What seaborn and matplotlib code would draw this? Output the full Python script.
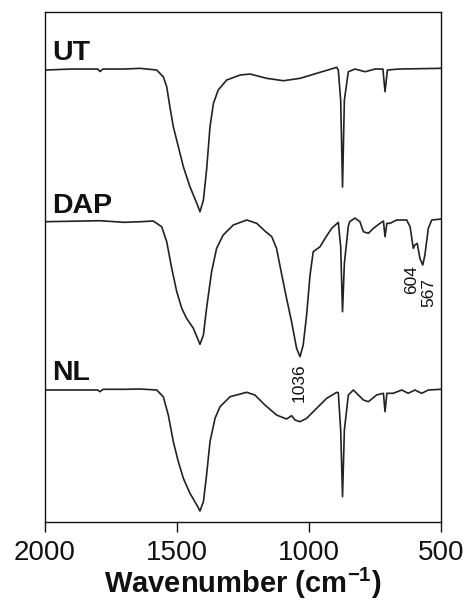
import pandas as pd
import seaborn as sns
import matplotlib.pyplot as plt

# FTIR spectra (wavenumber in cm-1, stacked intensity in a.u.)
ut_wn = [2000, 1900, 1800, 1792, 1780, 1700, 1640, 1577, 1552, 1539, 1527, 1514,
         1495, 1476, 1451, 1425, 1413, 1400, 1388, 1375, 1362, 1344, 1312, 1261,
         1223, 1160, 1097, 1034, 971, 895, 889, 880, 873, 866, 851, 826, 787, 750,
         720, 712, 703, 660, 500]
ut_y = [452, 453, 453, 450.5, 453, 453, 453.7, 452, 445.3, 435.3, 415.3, 395.3,
        375.3, 355.3, 335.3, 318.7, 310.3, 322, 352, 395.3, 418.7, 432, 442, 447,
        448, 443.7, 441.3, 443.7, 448.7, 454.7, 452, 422, 335, 422, 450.3, 453, 450.3,
        453, 453, 430.3, 452, 453, 453.7]

dap_wn = [2000, 1792, 1700, 1640, 1590, 1558, 1539, 1520, 1501, 1482, 1464, 1438,
          1413, 1400, 1388, 1369, 1350, 1325, 1287, 1236, 1198, 1167, 1141, 1123,
          1103, 1085, 1066, 1047, 1034, 1022, 1009, 996, 984, 958, 939, 914, 889,
          880, 873, 866, 851, 846, 826, 807, 794, 775, 756, 731, 718, 712, 705, 693,
          668, 630, 617, 605, 599, 590, 580, 569, 561, 548, 535, 500]
dap_y = [300.3, 301.3, 299.7, 300.3, 301, 295.3, 280.3, 253.7, 230.3, 213.7, 203.7,
         193.7, 177.7, 187, 213.7, 250.3, 273.7, 287, 297, 302, 298.7, 291, 285.3,
         273.7, 247, 223.7, 200.3, 173.7, 165.3, 177, 207, 247, 270.3, 275.3, 283.7,
         293.7, 299.7, 275.3, 210.3, 258.7, 296, 300.3, 304, 300.3, 290.3, 288.7,
         293.7, 298.7, 301, 285.3, 298.7, 298.7, 302, 302, 295.3, 273.7, 277, 278.7,
         263.7, 257, 267, 293.7, 302, 303]

nl_wn = [2000, 1800, 1792, 1780, 1700, 1640, 1577, 1552, 1533, 1514, 1495, 1476,
         1451, 1425, 1413, 1400, 1388, 1375, 1356, 1337, 1299, 1236, 1205, 1167,
         1123, 1085, 1066, 1053, 1034, 1009, 971, 933, 895, 889, 880, 873, 866,
         851, 832, 794, 775, 744, 718, 712, 705, 681, 649, 624, 599, 573, 548, 500]
nl_y = [132, 132, 130.3, 132.7, 132.7, 133, 132, 125.3, 107, 80.3, 60.3, 43.7,
        28.7, 17, 11, 20.3, 47, 80.3, 103.7, 115.3, 125.3, 129.7, 127, 117,
        107, 103, 106.3, 102, 100.3, 103.7, 113.7, 123.7, 129.7, 129.3, 92, 25.3, 92,
        127, 132, 122, 120.3, 127, 128.7, 110.3, 128.7, 128.7, 132, 128.7, 132, 128.7,
        132, 132.7]

labels = ["UT", "DAP", "NL"]
label_y = [462, 309, 142]
peaks = ["1036", "604", "567"]
peak_x = [1036, 612, 545]
peak_y = [139, 242, 229.5]

df = pd.concat([
    pd.DataFrame({"wn": ut_wn, "y": ut_y, "sample": "UT"}),
    pd.DataFrame({"wn": dap_wn, "y": dap_y, "sample": "DAP"}),
    pd.DataFrame({"wn": nl_wn, "y": nl_y, "sample": "NL"}),
])

sns.set_theme(style="ticks")
plt.rcParams["font.family"] = ["Liberation Sans", "DejaVu Sans"]
plt.rcParams["mathtext.fontset"] = "custom"
plt.rcParams["mathtext.rm"] = "Liberation Sans"
plt.rcParams["mathtext.bf"] = "Liberation Sans:bold"

fig = plt.figure(figsize=(4.67, 6.02), dpi=100)
ax = fig.add_axes([0.0964, 0.1329, 0.8479, 0.8471])

sns.lineplot(data=df, x="wn", y="y", hue="sample", units="sample", estimator=None,
             palette=["#222222"] * 3, linewidth=1.2, legend=False, ax=ax)

for lab, ly in zip(labels, label_y):
    ax.text(1972, ly, lab, fontsize=20.5, fontweight="bold", va="baseline", ha="left",
            color="#111111")
for txt, px, py in zip(peaks, peak_x, peak_y):
    ax.text(px, py, txt, fontsize=12.5, rotation=90, ha="center", va="center",
            color="#111111")

ax.set_xlim(2000, 500)
ax.set_ylim(0, 510)
ax.set_xticks([2000, 1500, 1000, 500])
ax.set_yticks([])
ax.tick_params(axis="x", direction="out", length=7, width=1, pad=6,
               labelsize=20, colors="#111111")
ax.set_ylabel("")
ax.set_xlabel(r"Wavenumber (cm$^{\mathbf{-1}}$)", fontsize=21, fontweight="bold",
              labelpad=0, color="#111111")
for s in ax.spines.values():
    s.set_visible(True)
    s.set_linewidth(1.0)
    s.set_color("#111111")

fig.savefig("out.png", dpi=100)
